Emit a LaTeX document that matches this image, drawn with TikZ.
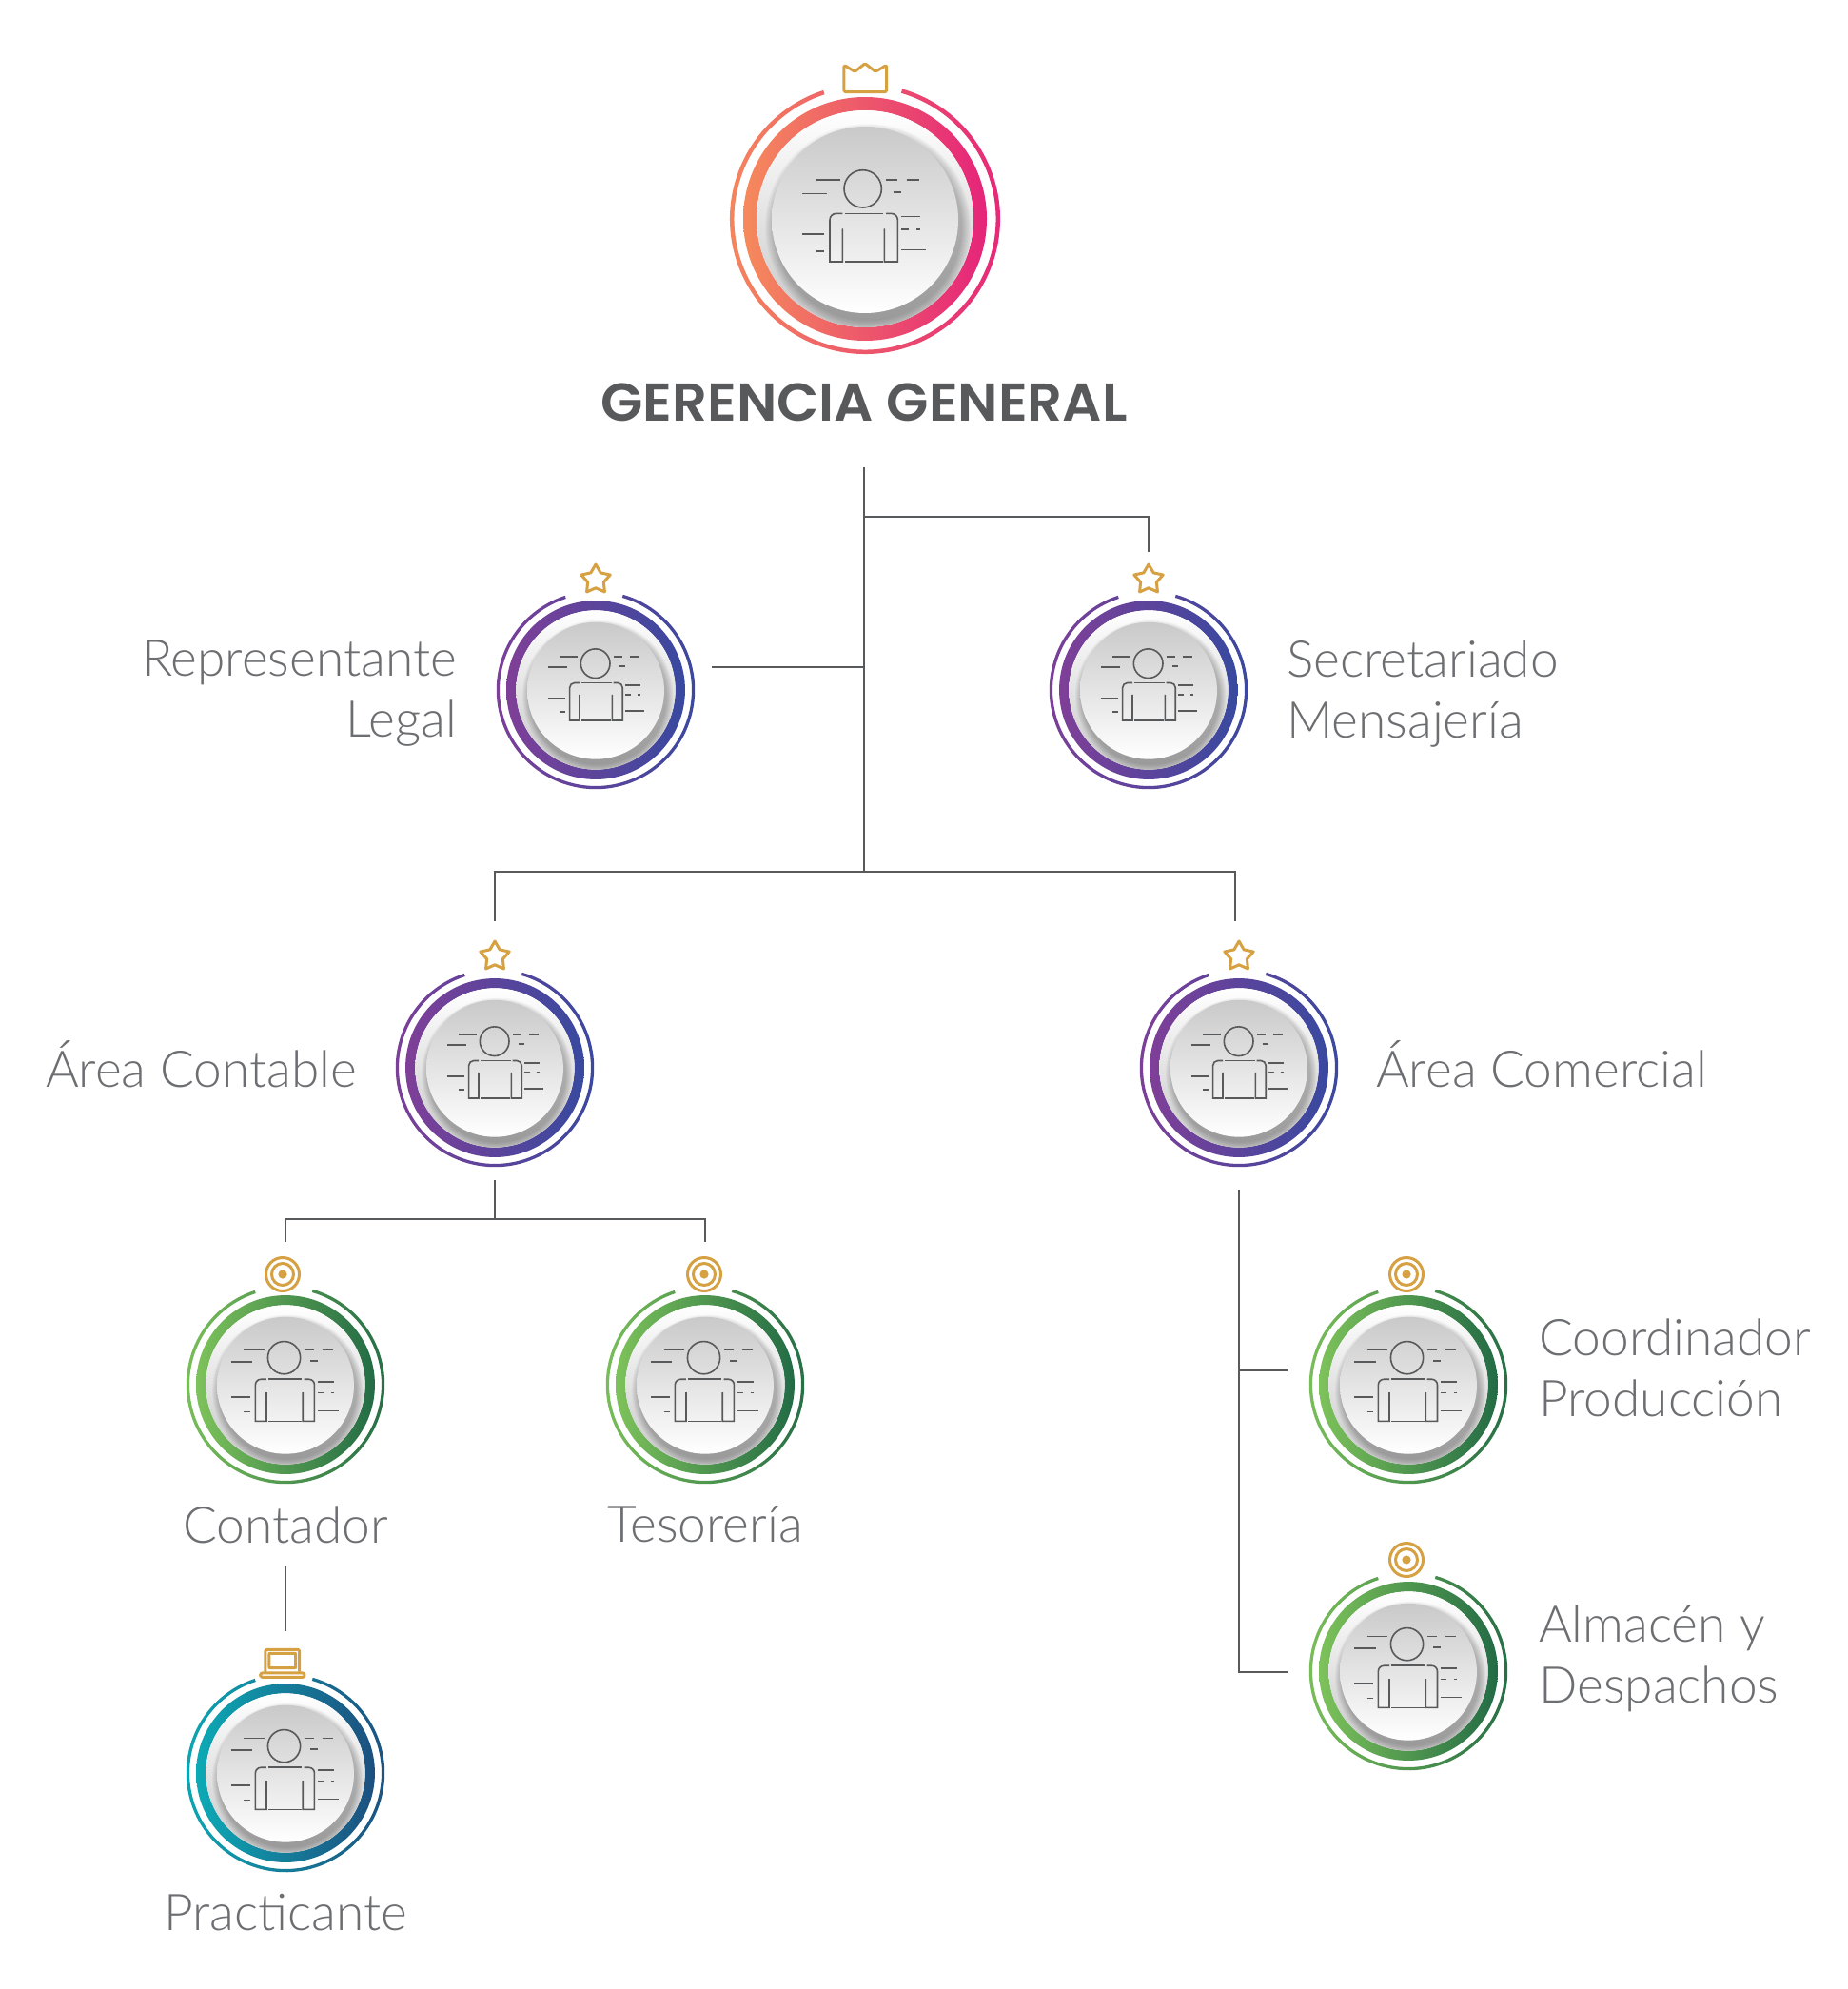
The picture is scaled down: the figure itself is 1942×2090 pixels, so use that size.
\documentclass[tikz,border=0pt]{standalone}
\usepackage{fontspec}
\newfontfamily\lightf{Lato Light}
\newfontfamily\titlef[BoldFont={Poppins SemiBold}]{Poppins}
\definecolor{gold}{HTML}{D6A143}
\definecolor{ink}{HTML}{58595B}
\definecolor{txt}{HTML}{6D6E71}
\definecolor{aL}{HTML}{F58A5C}\definecolor{aR}{HTML}{E5247A}
\definecolor{bL}{HTML}{7F3F98}\definecolor{bR}{HTML}{38499F}
\definecolor{cL}{HTML}{7DC25A}\definecolor{cR}{HTML}{236B45}
\definecolor{dL}{HTML}{0CAAB5}\definecolor{dR}{HTML}{1D4F7F}
\tikzset{
  conn/.style={draw=ink,line width=2.8pt},
  ic/.style={draw=ink,line width=1.6pt},
  goldline/.style={draw=gold,line width=3pt,line join=round,line cap=round},
  lbl/.style={font=\lightf\fontsize{53.2}{64}\selectfont,text=txt,inner sep=0pt},
}
% #1 x, #2 y, #3 ring scale, #4 left colour, #5 right colour, #6 name, #7 person scale, #8 person dx, #9 person dy
\newcommand\badge[9]{%
\coordinate (#6) at (#1,#2);
\begin{scope}[shift={(#1,#2)},scale=#3]
 \begin{scope}[yscale=-1]
  \shade[left color=#4,right color=#5] (108:137.5) arc (108:434:137.5) -- (434:142) arc (434:108:142) -- cycle;
  \shade[left color=#4,right color=#5,even odd rule] (0,0) circle (128) (0,0) circle (114);
  \shade[top color=white,bottom color=black!22] (0,0) circle (114);
  \begin{scope}
   \clip (0,0) circle (114);
   \foreach \k in {1,...,10}{\fill[black,opacity=.022] (3,-8) circle ({98+\k*1});}
  \end{scope}
  \shade[top color=black!21,bottom color=white] (0,-1) circle (98);
 \end{scope}
\end{scope}
\begin{scope}[shift={(#1+#8,#2+#9)},scale=#7/3,shift={(-504,-562)}]
  \draw[ic] (500,477) circle (59);
  \draw[ic] (355,449)--(428,449) (310,492)--(386,492) (573,449)--(610,449) (638,449)--(677,449)
    (596,488)--(621,488) (622,564)--(681,564) (622,604)--(644,604) (669,604)--(681,604)
    (622,669)--(698,669) (310,619)--(377,619) (355,673)--(377,673);
  \draw[ic] (436,555)--(416,555) .. controls (405,555) and (396,564) .. (396,575)--(396,707)--(436,707)--(436,603);
  \draw[ic] (444,555)--(565,555) (444,707)--(563,707);
  \draw[ic] (573,555)--(590,555) .. controls (601,555) and (610,564) .. (610,575)--(610,707)--(568,707)--(568,603);
\end{scope}}
\newcommand\starmark[2]{\begin{scope}[shift={(#1,#2)},yscale=-1]
 \draw[goldline] (90:16)--(126:8.8)--(162:16)--(198:8.8)--(234:16)--(270:8.8)--(306:16)--(342:8.8)--(18:16)--(54:8.8)--cycle;
\end{scope}}
\newcommand\targetmark[2]{\begin{scope}[shift={(#1,#2)}]
 \draw[goldline] (0,0) circle (17.5) (0,0) circle (11.5);
 \fill[gold] (0,0) circle (4.6);
\end{scope}}
\begin{document}
\begin{tikzpicture}[x=1pt,y=-1pt]
\useasboundingbox (0,0) rectangle (1942,2090);
\fill[white] (0,0) rectangle (1942,2090);
% connectors
\coordinate (t0) at (908,491); \coordinate (t1) at (908,916);
\coordinate (ts) at (908,543); \coordinate (sc) at (1207,543); \coordinate (se) at (1207,580);
\coordinate (rl) at (748,701); \coordinate (tl) at (908,701);
\coordinate (hl) at (520,916); \coordinate (hr) at (1298,916);
\coordinate (vl) at (520,968); \coordinate (vr) at (1298,968);
\coordinate (a0) at (520,1240); \coordinate (a1) at (520,1281);
\coordinate (al) at (300,1281); \coordinate (ar) at (741,1281);
\coordinate (ale) at (300,1305); \coordinate (are) at (741,1305);
\coordinate (p0) at (300,1646); \coordinate (p1) at (300,1714);
\coordinate (c0) at (1302,1250); \coordinate (c1) at (1302,1757); \coordinate (c2) at (1353,1757);
\coordinate (c3) at (1302,1440); \coordinate (c4) at (1353,1440);
\draw[conn] (t0)--(t1);
\draw[conn] (ts)--(sc)--(se);
\draw[conn] (rl)--(tl);
\draw[conn] (vl)--(hl)--(hr)--(vr);
\draw[conn] (a0)--(a1);
\draw[conn] (ale)--(al)--(ar)--(are);
\draw[conn] (p0)--(p1);
\draw[conn] (c0)--(c1)--(c2);
\draw[conn] (c3)--(c4);
% badges
\badge{909}{230}{1}{aL}{aR}{gg}{1}{-1}{-3.3}
\badge{626}{725}{0.734}{bL}{bR}{rep}{.78}{.7}{-5.7}
\badge{1207}{725}{0.734}{bL}{bR}{sec}{.78}{.7}{-5.7}
\badge{520}{1122}{0.734}{bL}{bR}{con}{.78}{.7}{-5.7}
\badge{1302}{1122}{0.734}{bL}{bR}{com}{.78}{.7}{-5.7}
\badge{300}{1455}{0.734}{cL}{cR}{cnt}{.87}{-.3}{-3.7}
\badge{741}{1455}{0.734}{cL}{cR}{tes}{.87}{-.3}{-3.7}
\badge{1480}{1455}{0.734}{cL}{cR}{coo}{.87}{-.3}{-3.7}
\badge{1480}{1756}{0.734}{cL}{cR}{alm}{.87}{-.3}{-3.7}
\badge{300}{1863}{0.734}{dL}{dR}{pra}{.87}{-.3}{-3.7}
% marks
\begin{scope}[scale=1/3,shift={(2220,120)}]
 \draw[goldline,rounded corners=1.5pt] (441,85)--(475,106)--(507,80)--(540,106)--(575,85)--(575,170)--(441,170)--cycle;
\end{scope}
\starmark{626}{609}\starmark{1207}{609}\starmark{520}{1005}\starmark{1302}{1005}
\targetmark{297}{1339}\targetmark{740}{1339}\targetmark{1478}{1339}\targetmark{1478}{1639}
\begin{scope}[scale=1/3,shift={(540,5160)}]
 \draw[goldline,rounded corners=1.5pt] (297,108)--(297,40)--(404,40)--(404,108);
 \draw[goldline,rounded corners=.5pt] (309,52)--(392,52)--(392,98)--(309,98)--cycle;
 \draw[goldline,rounded corners=2pt] (281,114)--(420,114)--(420,127)--(281,127)--cycle;
\end{scope}
% labels
\node[font=\titlef\bfseries\fontsize{56}{60}\selectfont,text=ink,inner sep=0pt,xscale=1.03] (tgg) at (908,423) {GERENCIA GENERAL};
\node[lbl,anchor=east,align=right] (trep) at (480,729) {Representante\\Legal};
\node[lbl,anchor=west,align=left] (tsec) at (1352,729) {Secretariado\\Mensajería};
\node[lbl,anchor=east] (tcon) at (375,1118) {Área Contable};
\node[lbl,anchor=west] (tcom) at (1446,1118) {Área Comercial};
\node[lbl] (tcnt) at (300,1602) {Contador};
\node[lbl] (ttes) at (741,1602) {Tesorería};
\node[lbl,anchor=west,align=left] (tcoo) at (1617,1437) {Coordinador\\Producción};
\node[lbl,anchor=west,align=left] (talm) at (1617,1743) {Almacén y\\Despachos};
\node[lbl] (tpra) at (300,2010) {Practicante};
\end{tikzpicture}
\end{document}
